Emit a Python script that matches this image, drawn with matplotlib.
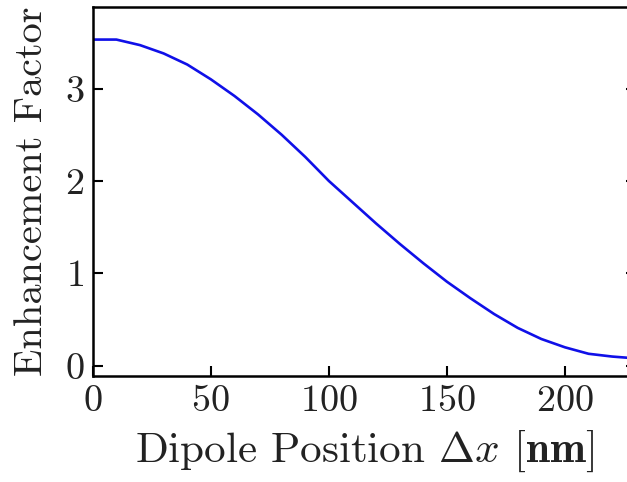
import matplotlib
matplotlib.use("Agg")
import matplotlib.pyplot as plt

plt.rcParams['font.family'] = 'serif'
plt.rcParams['font.serif'] = ['cmr10']
plt.rcParams['mathtext.fontset'] = 'cm'
plt.rcParams['axes.formatter.use_mathtext'] = True

# dipole position (nm) and enhancement factor
position = [0, 10, 20, 30, 40, 50, 60, 70, 80, 90, 100, 110, 120,
            130, 140, 150, 160, 170, 180, 190, 200, 210, 220, 230]
enhancement = [3.53, 3.53, 3.47, 3.38, 3.26, 3.10, 2.92, 2.72, 2.50, 2.26,
               2.00, 1.77, 1.54, 1.32, 1.11, 0.91, 0.73, 0.56, 0.41, 0.29,
               0.20, 0.13, 0.10, 0.08]
xticks = [0, 50, 100, 150, 200]
yticks = [0, 1, 2, 3]

fig = plt.figure(figsize=(6.27, 4.82), dpi=100)
ax = fig.add_axes([0.148, 0.22, 0.866, 0.765])

ax.plot(position, enhancement, color='#1010e8', lw=1.9)

ax.set_xlim(0, 230)
ax.set_ylim(-0.11, 3.88)
ax.set_xticks(xticks)
ax.set_yticks(yticks)
ax.tick_params(direction='in', length=7, width=1.5, labelsize=27.5, pad=6,
               right=True, top=False, labelcolor='#222222')
for s in ax.spines.values():
    s.set_linewidth(1.8)

ax.set_xlabel(r'Dipole Position $\Delta x$ [$\mathbf{nm}$]', fontsize=31,
              labelpad=8, color='#222222')
ax.set_ylabel('Enhancement Factor', fontsize=29, labelpad=11, color='#222222')

fig.savefig('out.png', dpi=100)
